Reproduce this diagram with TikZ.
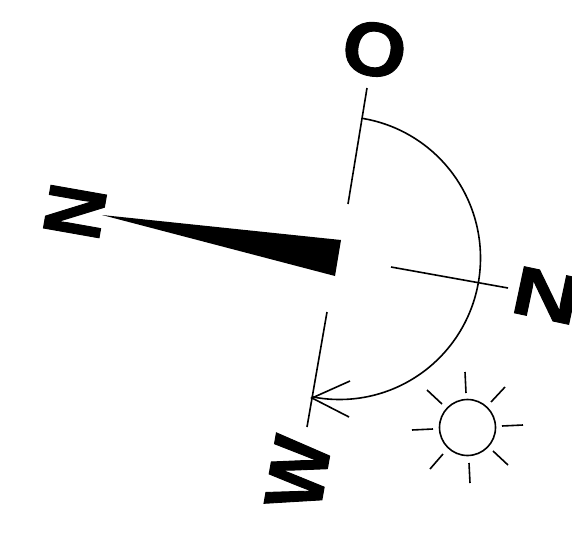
\documentclass[tikz,border=0pt]{standalone}
\usepackage{fontspec}
\setmainfont{Liberation Sans}
\newfontfamily\lettfont[FakeBold=1.2]{Liberation Sans Bold}
\tikzset{
  thinline/.style={line width=1.6pt,black,line cap=butt},
  letter/.style={inner sep=0pt,font=\lettfont\fontsize{40}{40}\selectfont}
}
\begin{document}
\begin{tikzpicture}[x=1pt,y=-1pt]
\useasboundingbox (0,0) rectangle (572,535);
% letters
\node[letter,rotate=-10,xscale=2.05,yscale=1.9] (o) at (374.5,49.5) {O};
\node[letter,rotate=80,xscale=1.85,yscale=2.05] (nl) at (75,211.5) {N};
\node[letter,rotate=-12,xscale=2.35,yscale=1.72] (nr) at (546.5,295.5) {N};
\node[letter,rotate=80,xscale=1.9,yscale=2.05] (w) at (298,473) {W};
% needle
\coordinate (tip) at (102,215);
\coordinate (b1) at (341,240);
\coordinate (b2) at (335,276);
\fill[black] (tip) -- (b1) -- (b2) -- cycle;
% axes
\coordinate (ta) at (367,88); \coordinate (tb) at (348,204);
\coordinate (ra) at (391,267); \coordinate (rb) at (508,288);
\coordinate (ba) at (327,312); \coordinate (bb) at (307,427);
\draw[thinline] (ta) -- (tb);
\draw[thinline] (ra) -- (rb);
\draw[thinline] (ba) -- (bb);
% arc
\draw[thinline] plot[domain=-80.7:101.3,samples=80,smooth] ({339.5+141*cos(\x)},{258+141.5*sin(\x)});
% arrowhead
\coordinate (ah) at (312,398);
\coordinate (h1) at (350,381);
\coordinate (h2) at (349,417);
\draw[thinline] (h1) -- (ah) -- (h2);
% sun
\node[draw,circle,line width=1.6pt,minimum size=56pt,inner sep=0pt] (sun) at (467.5,427.5) {};
\foreach \a/\b/\c/\d in {465/372/466/393,505/387/491/402,502/426/523/425,493/451/508/465,469/463/470/483,443/454/430/469,412/430/433/429,427/390/442/404}
  \draw[thinline] (\a,\b) -- (\c,\d);
\end{tikzpicture}
\end{document}
